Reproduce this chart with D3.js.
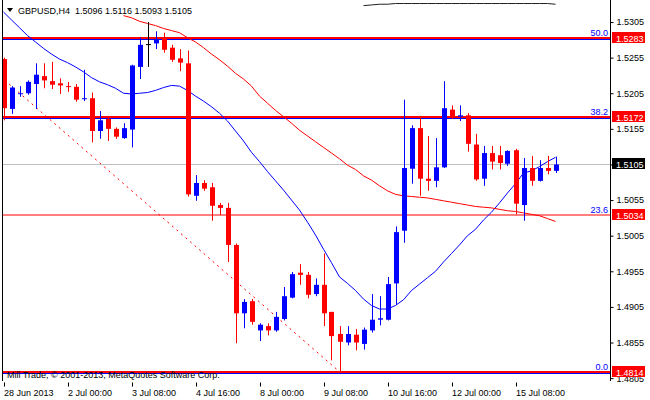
<!DOCTYPE html>
<html>
<head>
<meta charset="utf-8">
<script src="https://cdn.jsdelivr.net/npm/d3@7"></script>
<style>
  html, body { margin: 0; padding: 0; background: #ffffff; }
  svg { display: block; }
  text { font-family: "Liberation Sans", Arial, sans-serif; }
</style>
</head>
<body>
<svg id="chart" width="650" height="400"></svg>
<script>
// ---------------- DATA ----------------
const symbol = "GBPUSD,H4";
const lastOHLC = [1.5096, 1.5116, 1.5093, 1.5105];
const copyright = "Mill Trade, \u00A9 2001-2013, MetaQuotes Software Corp.";

const open = [1.5253,1.5183,1.5204,1.5205,1.5218,1.5229,1.5222,1.5219,1.5215,1.5214,
  1.5197,1.5198,1.5152,1.5169,1.5155,1.5142,1.5154,1.5242,1.5274,1.5275,
  1.5283,1.5269,1.5254,1.5247,1.5061,1.5079,1.5073,1.5048,1.5044,1.4992,
  1.4896,1.4913,1.4872,1.4878,1.4872,1.4888,1.4918,1.4953,1.4950,1.4923,
  1.4936,1.4898,1.4867,1.4855,1.4866,1.4853,1.4872,1.4887,1.4887,1.4938,
  1.5012,1.5099,1.5156,1.5085,1.5082,1.5101,1.5182,1.5172,1.5174,1.5133,
  1.5085,1.5121,1.5118,1.5106,1.5125,1.5048,1.5100,1.5082,1.5100,1.5096];
const high = [1.5255,1.5215,1.5215,1.5223,1.5247,1.5247,1.5249,1.5226,1.5221,1.5218,
  1.5238,1.5206,1.5180,1.5171,1.5157,1.5163,1.5245,1.5283,1.5305,1.5292,
  1.5290,1.5273,1.5267,1.5265,1.5090,1.5083,1.5079,1.5051,1.5051,1.4994,
  1.4916,1.4916,1.4882,1.4882,1.4898,1.4933,1.4954,1.4965,1.4954,1.4945,
  1.4980,1.4898,1.4878,1.4878,1.4874,1.4876,1.4923,1.4920,1.4947,1.5018,
  1.5196,1.5160,1.5172,1.5145,1.5142,1.5222,1.5188,1.5188,1.5177,1.5148,
  1.5131,1.5131,1.5131,1.5125,1.5127,1.5114,1.5117,1.5111,1.5117,1.5116];
const low = [1.5167,1.5176,1.5200,1.5203,1.5183,1.5212,1.5211,1.5204,1.5207,1.5193,
  1.5194,1.5136,1.5141,1.5138,1.5141,1.5141,1.5129,1.5225,1.5242,1.5267,
  1.5262,1.5249,1.5236,1.5060,1.5054,1.5068,1.5026,1.5034,1.4968,1.4854,
  1.4875,1.4880,1.4857,1.4865,1.4870,1.4886,1.4917,1.4936,1.4917,1.4920,
  1.4878,1.4830,1.4814,1.4851,1.4844,1.4845,1.4869,1.4879,1.4886,1.4908,
  1.4995,1.5078,1.5061,1.5068,1.5073,1.5100,1.5169,1.5166,1.5123,1.5082,
  1.5075,1.5098,1.5098,1.5103,1.5035,1.5026,1.5075,1.5081,1.5091,1.5093];
const close = [1.5184,1.5213,1.5205,1.5221,1.5231,1.5223,1.5217,1.5216,1.5214,1.5196,
  1.5198,1.5152,1.5167,1.5155,1.5144,1.5156,1.5244,1.5273,1.5274,1.5280,
  1.5266,1.5252,1.5248,1.5063,1.5079,1.5071,1.5047,1.5044,1.4992,1.4896,
  1.4912,1.4884,1.4880,1.4872,1.4891,1.4920,1.4951,1.4950,1.4922,1.4936,
  1.4896,1.4864,1.4856,1.4867,1.4855,1.4873,1.4887,1.4889,1.4937,1.5010,
  1.5100,1.5156,1.5085,1.5082,1.5101,1.5184,1.5172,1.5174,1.5134,1.5084,
  1.5121,1.5109,1.5107,1.5124,1.5050,1.5100,1.5082,1.5100,1.5096,1.5105];

// fast moving average (blue), one value per bar
const maFast = [1.5319,1.5308,1.5297,1.5286,1.5277,1.5268,1.5260,1.5253,1.5248,1.5242,
  1.5235,1.5227,1.5221,1.5217,1.5212,1.5205,1.5204,1.5205,1.5206,1.5209,
  1.5213,1.5216,1.5215,1.5209,1.5201,1.5194,1.5186,1.5177,1.5166,1.5152,
  1.5138,1.5122,1.5109,1.5095,1.5082,1.5069,1.5055,1.5041,1.5024,1.5006,
  1.4986,1.4967,1.4947,1.4938,1.4928,1.4916,1.4907,1.4902,1.4902,1.4907,
  1.4915,1.4928,1.4937,1.4946,1.4955,1.4968,1.4980,1.4992,1.5005,1.5014,
  1.5027,1.5038,1.5051,1.5065,1.5078,1.5093,1.5096,1.5102,1.5109,1.5115];
// slow moving average (red), starts at bar 15
const maSlow = [null,null,null,null,null,null,null,null,null,null,
  null,null,null,null,null,1.5314,1.5311,1.5306,1.5303,1.5300,
  1.5296,1.5293,1.5290,1.5283,1.5277,1.5269,1.5260,1.5252,1.5243,1.5233,
  1.5225,1.5215,1.5201,1.5191,1.5181,1.5172,1.5163,1.5153,1.5145,1.5137,
  1.5129,1.5121,1.5113,1.5104,1.5098,1.5089,1.5083,1.5075,1.5068,1.5063,
  1.5061,1.5060,1.5059,1.5058,1.5056,1.5054,1.5052,1.5050,1.5048,1.5046,
  1.5045,1.5044,1.5042,1.5040,1.5039,1.5037,1.5035,1.5033,1.5029,1.5025];
// long moving average (dark), only visible near the top edge from bar 45
const maLong = [null,null,null,null,null,null,null,null,null,null,
  null,null,null,null,null,null,null,null,null,null,
  null,null,null,null,null,null,null,null,null,null,
  null,null,null,null,null,null,null,null,null,null,
  null,null,null,null,null,1.5328,1.5329,1.5330,1.5330,1.5331,
  1.5331,1.5331,1.5331,1.5331,1.5331,1.5331,1.5331,1.5331,1.5331,1.5331,
  1.5331,1.5331,1.5331,1.5331,1.5331,1.5331,1.5331,1.5331,1.5331,1.5330];

// Fibonacci levels
const fibNames  = ["50.0", "38.2", "23.6", "0.0"];
const fibPrices = [1.5283, 1.5172, 1.5034, 1.4814];
const fibBlueLine = [true, true, false, true];
// Fibonacci trend line (bar index, price)
const fibLineBars   = [0.7, 42];
const fibLinePrices = [1.5218, 1.4814];

// axes
const priceTicks = [1.5305,1.5255,1.5205,1.5155,1.5105,1.5055,1.5005,1.4955,1.4905,1.4855,1.4805];
const timeTickBars = [0, 8, 16, 24, 32, 40, 48, 56, 64];
const timeTickLabels = ["28 Jun 2013","2 Jul 00:00","3 Jul 08:00","4 Jul 16:00","8 Jul 00:00",
  "9 Jul 08:00","10 Jul 16:00","12 Jul 00:00","15 Jul 08:00"];
const currentPrice = 1.5105;

// ---------------- LAYOUT ----------------
const svg = d3.select("#chart");
const W = 650, H = 400;
const plotL = 2, plotR = 610, plotT = 0, plotB = 381;
const BLUE = "#0000ff", RED = "#ff0000";
const FONT = 9;

const x = d3.scaleLinear().domain([0, 69]).range([3.5, 555.5]);
const y = d3.scaleLinear().domain([1.4814, 1.5283]).range([371.7, 37.7]);

svg.append("rect").attr("width", W).attr("height", H).attr("fill", "#ffffff");

svg.append("clipPath").attr("id", "plotclip")
  .append("rect").attr("x", plotL + 1).attr("y", plotT).attr("width", plotR - plotL - 1).attr("height", plotB - plotT);

const plot = svg.append("g").attr("clip-path", "url(#plotclip)");

// current price line
plot.append("line")
  .attr("x1", plotL).attr("x2", plotR)
  .attr("y1", Math.round(y(currentPrice)) + 0.5).attr("y2", Math.round(y(currentPrice)) + 0.5)
  .attr("stroke", "#c0c0c0").attr("stroke-width", 1);

// fib levels
fibPrices.forEach((p, i) => {
  const yy = Math.round(y(p));
  plot.append("line").attr("x1", plotL).attr("x2", plotR)
    .attr("y1", yy).attr("y2", yy)
    .attr("stroke", RED).attr("stroke-width", fibBlueLine[i] ? 2 : 1.2);
  if (fibBlueLine[i]) {
    plot.append("line").attr("x1", plotL).attr("x2", plotR)
      .attr("y1", yy + 1.5).attr("y2", yy + 1.5)
      .attr("stroke", BLUE).attr("stroke-width", 1);
  }
  svg.append("text").attr("x", 608).attr("y", yy - 2)
    .attr("text-anchor", "end").attr("font-size", FONT).attr("fill", BLUE)
    .text(fibNames[i]);
});

// fib trend line (dashed)
plot.append("line")
  .attr("x1", x(fibLineBars[0])).attr("y1", y(fibLinePrices[0]))
  .attr("x2", x(fibLineBars[1])).attr("y2", y(fibLinePrices[1]))
  .attr("stroke", RED).attr("stroke-width", 1).attr("stroke-dasharray", "2,4");

// moving averages
const lineGen = d3.line()
  .defined(d => d != null)
  .x((d, i) => x(i)).y(d => y(d));
plot.append("path").datum(maFast).attr("d", lineGen)
  .attr("fill", "none").attr("stroke", BLUE).attr("stroke-width", 1);
plot.append("path").datum(maSlow).attr("d", lineGen)
  .attr("fill", "none").attr("stroke", RED).attr("stroke-width", 1);
plot.append("path").datum(maLong).attr("d", lineGen)
  .attr("fill", "none").attr("stroke", "#202020").attr("stroke-width", 1);

// candles
const bars = d3.range(open.length).map(i => ({ i, o: open[i], h: high[i], l: low[i], c: close[i] }));
const col = d => d.c > d.o ? BLUE : (d.c < d.o ? RED : "#000000");
const cg = plot.append("g");
cg.selectAll("line.wick").data(bars).join("line")
  .attr("class", "wick")
  .attr("x1", d => Math.round(x(d.i)) + 0.5).attr("x2", d => Math.round(x(d.i)) + 0.5)
  .attr("y1", d => y(d.h)).attr("y2", d => y(d.l))
  .attr("stroke", col).attr("stroke-width", 1);
cg.selectAll("rect.body").data(bars).join("rect")
  .attr("class", "body")
  .attr("x", d => Math.round(x(d.i)) - 2)
  .attr("width", 5)
  .attr("y", d => y(Math.max(d.o, d.c)))
  .attr("height", d => Math.max(1, Math.abs(y(d.o) - y(d.c))))
  .attr("fill", col);

// frame
svg.append("line").attr("x1", plotL + 0.5).attr("x2", plotL + 0.5).attr("y1", plotT).attr("y2", plotB)
  .attr("stroke", "#000").attr("stroke-width", 1);
svg.append("line").attr("x1", plotR + 0.5).attr("x2", plotR + 0.5).attr("y1", plotT).attr("y2", plotB)
  .attr("stroke", "#000").attr("stroke-width", 1);

// right price axis
const yAxis = d3.axisRight(y).tickValues(priceTicks).tickSize(3).tickSizeOuter(0)
  .tickFormat(d3.format(".4f"));
const ya = svg.append("g").attr("transform", `translate(${plotR + 0.5},0)`).call(yAxis);
ya.select(".domain").remove();
ya.selectAll("text").attr("font-size", FONT).attr("font-family", "Liberation Sans, Arial, sans-serif")
  .attr("x", 6).attr("fill", "#000");
ya.selectAll("line").attr("stroke", "#000");

// bottom time axis
const xAxis = d3.axisBottom(x).tickValues(timeTickBars).tickSize(4).tickSizeOuter(0)
  .tickFormat((d, i) => timeTickLabels[i]);
const xa = svg.append("g").attr("transform", `translate(0,${plotB + 1.5})`).call(xAxis);
xa.select(".domain").remove();
xa.selectAll(".tick line").attr("stroke", "#000").attr("transform", "translate(0.5,0)");
xa.selectAll("text").attr("font-size", FONT).attr("font-family", "Liberation Sans, Arial, sans-serif")
  .attr("text-anchor", "start").attr("x", 0).attr("dy", "0").attr("y", 13).attr("fill", "#000");

// price labels (boxes)
function priceBox(p, fill) {
  const yy = Math.round(y(p));
  svg.append("rect").attr("x", 612).attr("y", yy - 6).attr("width", 33).attr("height", 11).attr("fill", fill);
  svg.append("text").attr("x", 616).attr("y", yy + 3.5).attr("font-size", FONT).attr("fill", "#fff")
    .text(d3.format(".4f")(p));
}
fibPrices.forEach(p => priceBox(p, RED));
priceBox(currentPrice, "#000000");

// title
svg.append("path").attr("d", "M7,8 L13,8 L10,12 Z").attr("fill", "#000");
svg.append("text").attr("x", 18).attr("y", 14).attr("font-size", FONT).attr("fill", "#000")
  .attr("xml:space", "preserve")
  .text(symbol + "  " + lastOHLC.map(d3.format(".4f")).join(" "));

// copyright
svg.append("text").attr("x", 7).attr("y", 378).attr("font-size", FONT).attr("fill", "#000")
  .text(copyright);
</script>
</body>
</html>
